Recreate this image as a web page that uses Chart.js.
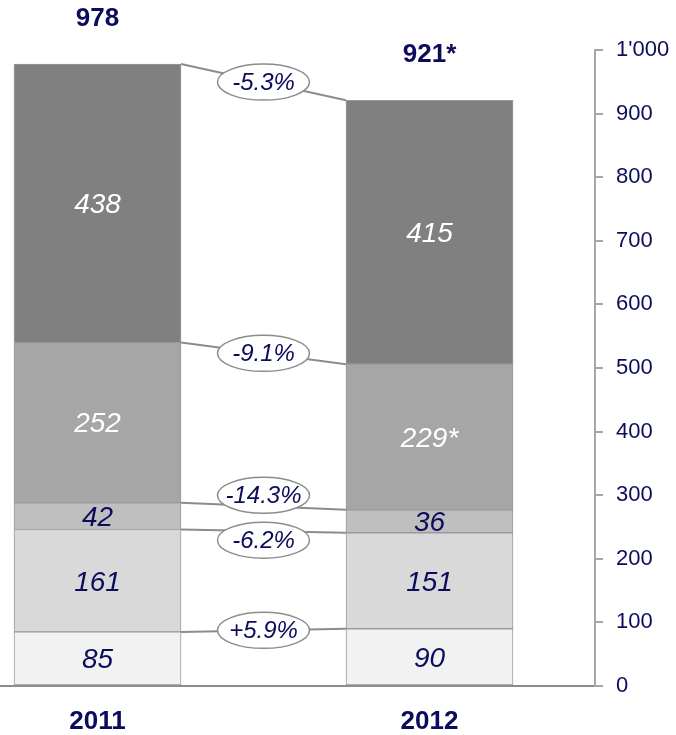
<!DOCTYPE html>
<html>
<head>
<meta charset="utf-8">
<script src="https://cdn.jsdelivr.net/npm/chart.js@4.4.1/dist/chart.umd.min.js"></script>
<style>
  html, body { margin: 0; padding: 0; background: #fff; }
</style>
</head>
<body>
<canvas id="chart" width="676" height="735"></canvas>
<script>
// data (bottom segment first)
var years = ['2011', '2012'];
var seg1 = [85, 90];
var seg2 = [161, 151];
var seg3 = [42, 36];
var seg4 = [252, 229];
var seg5 = [438, 415];
var seg4Labels = ['252', '229*'];
var totalLabels = ['978', '921*'];
var changeLabels = ['+5.9%', '-6.2%', '-14.3%', '-9.1%', '-5.3%'];
var yMax = 1000;
var yStep = 100;

var NAVY = '#0c0c5c';
var FONT = '"Liberation Sans", Arial, sans-serif';
var segColors = ['#f2f2f2', '#d9d9d9', '#bfbfbf', '#a6a6a6', '#808080'];
var segTextColors = [NAVY, NAVY, NAVY, '#ffffff', '#ffffff'];
var bubbleShift = [0, 9, -11, 0, 0];

function toPoints(arr) {
    return arr.map(function (v, i) { return { x: i, y: v }; });
}

function makeSet(arr, i) {
    return {
        data: toPoints(arr),
        backgroundColor: segColors[i],
        borderColor: '#9a9a9a',
        borderWidth: 1,
        borderSkipped: false,
        barThickness: 167
    };
}

var overlayPlugin = {
    id: 'overlay',
    afterDatasetsDraw: function (chart) {
        var ctx = chart.ctx;
        var n = chart.data.datasets.length;
        var metas = [];
        for (var k = 0; k < n; k++) metas.push(chart.getDatasetMeta(k));

        // connector lines between the segment tops
        ctx.save();
        ctx.strokeStyle = '#8c8c8c';
        ctx.lineWidth = 2;
        metas.forEach(function (meta) {
            var a = meta.data[0], b = meta.data[1];
            ctx.beginPath();
            ctx.moveTo(a.x + a.width / 2, a.y);
            ctx.lineTo(b.x - b.width / 2, b.y);
            ctx.stroke();
        });

        // change bubbles
        ctx.font = 'italic 24px ' + FONT;
        ctx.textAlign = 'center';
        ctx.textBaseline = 'middle';
        metas.forEach(function (meta, k) {
            var a = meta.data[0], b = meta.data[1];
            var x1 = a.x + a.width / 2, x2 = b.x - b.width / 2;
            var cx = (x1 + x2) / 2;
            var cy = (a.y + b.y) / 2 + bubbleShift[k];
            ctx.beginPath();
            ctx.ellipse(cx, cy, 46, 18, 0, 0, Math.PI * 2);
            ctx.fillStyle = '#ffffff';
            ctx.fill();
            ctx.lineWidth = 1.5;
            ctx.strokeStyle = '#8c8c8c';
            ctx.stroke();
            ctx.fillStyle = NAVY;
            ctx.fillText(changeLabels[k], cx, cy + 1);
        });

        // values inside segments
        ctx.font = 'italic 28px ' + FONT;
        metas.forEach(function (meta, k) {
            meta.data.forEach(function (bar, i) {
                var txt = k === 3 ? seg4Labels[i] : String(chart.data.datasets[k].data[i].y);
                ctx.fillStyle = segTextColors[k];
                ctx.fillText(txt, bar.x, (bar.y + bar.base) / 2 + 2);
            });
        });

        // totals above the bars
        ctx.font = 'bold 26px ' + FONT;
        ctx.fillStyle = NAVY;
        metas[n - 1].data.forEach(function (bar, i) {
            ctx.fillText(totalLabels[i], bar.x, bar.y - 45);
        });
        ctx.restore();
    }
};

new Chart(document.getElementById('chart').getContext('2d'), {
    type: 'bar',
    data: {
        datasets: [seg1, seg2, seg3, seg4, seg5].map(makeSet)
    },
    options: {
        responsive: false,
        animation: false,
        events: [],
        layout: { padding: { top: 50, left: 0, right: 0, bottom: 0 } },
        plugins: {
            legend: { display: false },
            tooltip: { enabled: false }
        },
        scales: {
            x: {
                type: 'linear',
                stacked: true,
                offset: false,
                bounds: 'data',
                min: -0.2937,
                max: 1.4985,
                grid: { display: false, offset: false },
                border: { display: true, color: '#8c8c8c', width: 2 },
                afterBuildTicks: function (scale) {
                    scale.ticks = years.map(function (y, i) { return { value: i }; });
                },
                afterFit: function (scale) { scale.height = 49; },
                ticks: {
                    autoSkip: false,
                    maxRotation: 0,
                    padding: 12,
                    color: NAVY,
                    font: { family: FONT, size: 26, weight: 'bold' },
                    callback: function (v) { return years[v]; }
                }
            },
            y: {
                position: 'right',
                stacked: true,
                min: 0,
                max: yMax,
                grid: {
                    drawOnChartArea: false,
                    color: '#a6a6a6',
                    lineWidth: 2,
                    tickLength: 8
                },
                border: { display: true, color: '#a6a6a6', width: 2 },
                afterFit: function (scale) { scale.width = 81; },
                ticks: {
                    stepSize: yStep,
                    padding: 13,
                    color: NAVY,
                    font: { family: FONT, size: 22 },
                    callback: function (v) { return v === 1000 ? "1'000" : v; }
                }
            }
        }
    },
    plugins: [overlayPlugin]
});
</script>
</body>
</html>
